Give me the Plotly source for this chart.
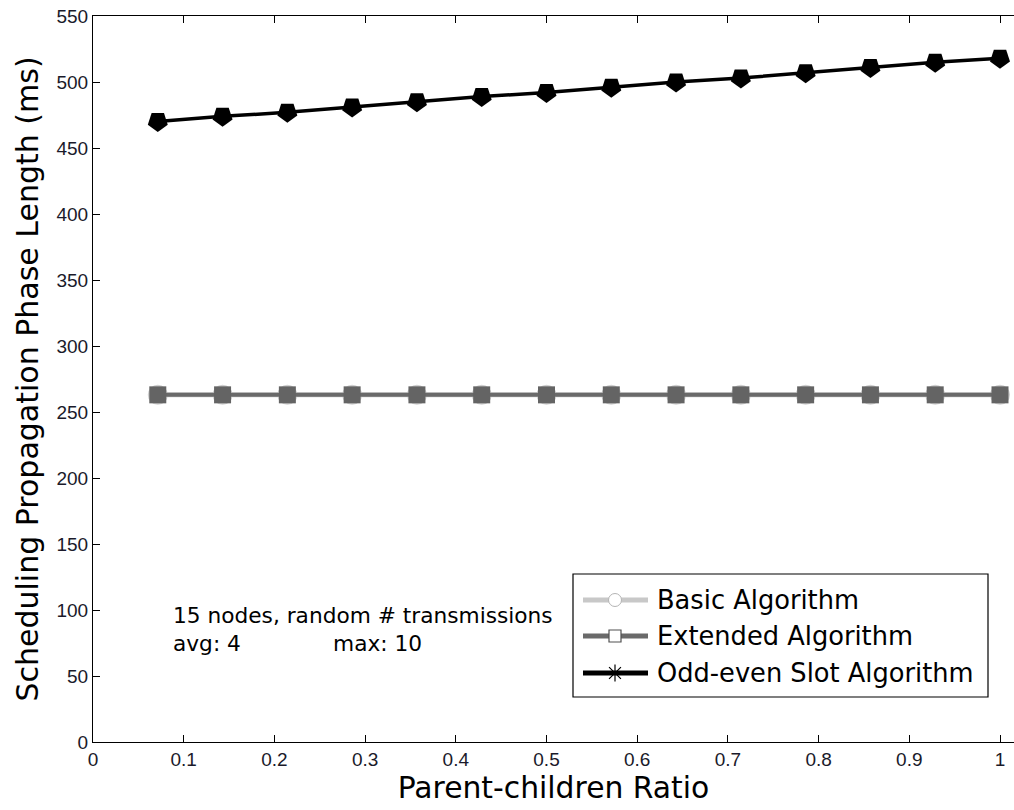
import plotly.graph_objects as go

# Data
ratio = [1/14, 2/14, 3/14, 4/14, 5/14, 6/14, 7/14, 8/14, 9/14, 10/14, 11/14, 12/14, 13/14, 1.0]
basic_ms = [263] * 14
extended_ms = [263] * 14
odd_even_ms = [470, 474, 477, 481, 485, 489, 492, 496, 500, 503, 507, 511, 515, 518]

x_ticks = [0, 0.1, 0.2, 0.3, 0.4, 0.5, 0.6, 0.7, 0.8, 0.9, 1]
y_ticks = list(range(0, 551, 50))

legend_names = ["Basic Algorithm", "Extended Algorithm", "Odd-even Slot Algorithm"]

FONT = "Liberation Sans, Arial, sans-serif"
WIDE = "DejaVu Sans, Liberation Sans, sans-serif"
W, H = 1014, 810
ML, MT, MB, MR = 93, 16, 68, 0
plot_w = W - ML - MR
px_per_unit = 907.0
x_max = plot_w / px_per_unit

fig = go.Figure()

fig.add_trace(go.Scatter(
    x=ratio, y=basic_ms, mode="lines+markers",
    line=dict(color="#c8c8c8", width=5),
    marker=dict(symbol="circle", size=20, color="#d0d0d0"),
    showlegend=False,
))
fig.add_trace(go.Scatter(
    x=ratio, y=extended_ms, mode="lines+markers",
    line=dict(color="#6a6a6a", width=4),
    marker=dict(symbol="square", size=17, color="#646464"),
    showlegend=False,
))
fig.add_trace(go.Scatter(
    x=ratio, y=odd_even_ms, mode="lines+markers",
    line=dict(color="#000000", width=3.5),
    marker=dict(symbol="pentagon", angle=180, size=21, color="#000000"),
    showlegend=False,
))

# Legend drawn on an overlay axis spanning the plot area in paper units
def px_x(p):
    return (p - ML) / plot_w

def px_y(p):
    return (H - MB - p) / (H - MT - MB)

key_x0, key_x1, key_mid, text_x = px_x(583), px_x(648), px_x(615), px_x(655)
rows = [px_y(600), px_y(636), px_y(673)]
key_styles = [
    dict(line=dict(color="#c8c8c8", width=5),
         marker=dict(symbol="circle", size=13, color="white", line=dict(color="#b4b4b4", width=1))),
    dict(line=dict(color="#6a6a6a", width=5),
         marker=dict(symbol="square", size=12, color="white", line=dict(color="#505050", width=1.2))),
    dict(line=dict(color="#000000", width=5),
         marker=dict(symbol="asterisk-open", size=14, color="#000000", line=dict(color="#000000", width=1.2))),
]
for ry, st in zip(rows, key_styles):
    fig.add_trace(go.Scatter(
        x=[key_x0, key_x1], y=[ry, ry], mode="lines", line=st["line"],
        xaxis="x2", yaxis="y2", showlegend=False, hoverinfo="skip",
    ))
    fig.add_trace(go.Scatter(
        x=[key_mid], y=[ry], mode="markers", marker=st["marker"],
        xaxis="x2", yaxis="y2", showlegend=False, hoverinfo="skip",
    ))

shapes = [dict(type="rect", xref="paper", yref="paper",
               x0=px_x(573), x1=px_x(988), y0=px_y(697), y1=px_y(574),
               line=dict(color="#000000", width=1.2), fillcolor="rgba(0,0,0,0)")]

annotations = []
for ry, name in zip(rows, legend_names):
    annotations.append(dict(
        x=text_x, y=ry, xref="paper", yref="paper", text=name,
        showarrow=False, xanchor="left", yanchor="middle",
        font=dict(family=WIDE, size=25.7, color="#000000"),
    ))

note_font = dict(family=WIDE, size=21.7, color="#000000")
annotations += [
    dict(x=px_x(171), y=px_y(615), xref="paper", yref="paper",
         text="15 nodes, random # transmissions", showarrow=False,
         xanchor="left", yanchor="middle", font=note_font),
    dict(x=px_x(171), y=px_y(643), xref="paper", yref="paper",
         text="avg: 4", showarrow=False, xanchor="left", yanchor="middle", font=note_font),
    dict(x=px_x(331), y=px_y(643), xref="paper", yref="paper",
         text="max: 10", showarrow=False, xanchor="left", yanchor="middle", font=note_font),
]

fig.update_layout(
    width=W, height=H,
    margin=dict(l=ML, r=MR, t=MT, b=MB, pad=0),
    paper_bgcolor="white", plot_bgcolor="white",
    font=dict(family=FONT, color="#111111"),
    xaxis=dict(
        range=[0, x_max], tickvals=x_ticks, ticktext=[f"{v:g}" for v in x_ticks],
        ticks="inside", ticklen=7, tickcolor="#000000", tickwidth=1,
        showline=True, linecolor="#000000", linewidth=1, mirror="ticks",
        showgrid=False, zeroline=False,
        tickfont=dict(family=FONT, size=19, color="#1a1a2a"),
        title=dict(text="Parent-children Ratio", font=dict(family=WIDE, size=29.8, color="#000000"), standoff=5),
    ),
    yaxis=dict(
        range=[0, 550], tickvals=y_ticks,
        ticks="inside", ticklen=7, tickcolor="#000000", tickwidth=1,
        showline=True, linecolor="#000000", linewidth=1,
        showgrid=False, zeroline=False,
        tickfont=dict(family=FONT, size=19, color="#1a1a2a"),
        title=dict(text="Scheduling Propagation Phase Length (ms)",
                   font=dict(family=WIDE, size=30, color="#000000"), standoff=8),
    ),
    xaxis2=dict(range=[0, 1], overlaying="x", visible=False, fixedrange=True),
    yaxis2=dict(range=[0, 1], overlaying="y", visible=False, fixedrange=True),
    shapes=shapes,
    annotations=annotations,
)

fig.write_html("out.html")
